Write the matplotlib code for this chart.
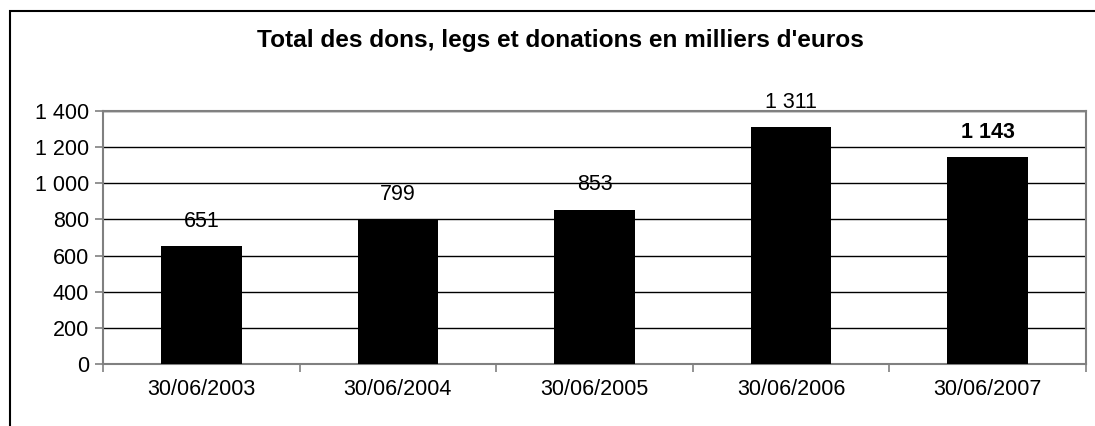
import matplotlib
matplotlib.use("Agg")
import matplotlib.pyplot as plt
from matplotlib.patches import Rectangle
from matplotlib.ticker import FuncFormatter, FixedLocator

plt.rcParams['font.family'] = ['Liberation Sans', 'DejaVu Sans']

categories = ["30/06/2003", "30/06/2004", "30/06/2005", "30/06/2006", "30/06/2007"]
values = [651, 799, 853, 1311, 1143]
title = "Total des dons, legs et donations en milliers d'euros"

W, H = 1095, 426
fig = plt.figure(figsize=(W / 100, H / 100), dpi=100)

# outer chart frame (extends past right and bottom edges)
fig.patches.append(Rectangle((10 / W, -0.2), 1.2, 1 - 11 / H + 0.2, transform=fig.transFigure,
                             fill=False, edgecolor='black', linewidth=1.5))

left, right, top, bottom = 103 / W, 1086 / W, 1 - 111 / H, 1 - 364 / H
ax = fig.add_axes([left, bottom, right - left, top - bottom])

def fmt(v):
    return f"{int(v):,}".replace(",", " ")

fs = 15.5
x = [i + 0.5 for i in range(len(values))]
ax.bar(x, values, width=0.41, color='black', zorder=3)
ax.set_xlim(0, len(values))
ax.set_ylim(0, 1400)
ax.set_yticks(range(0, 1401, 200))
ax.yaxis.set_major_formatter(FuncFormatter(lambda v, p: fmt(v)))
ax.set_xticks(range(len(values) + 1))
ax.set_xticklabels([])
ax.xaxis.set_minor_locator(FixedLocator(x))
ax.set_xticklabels(categories, minor=True)
ax.tick_params(axis='x', which='minor', length=0, pad=11, labelsize=fs)
ax.tick_params(axis='x', which='major', length=6, direction='out', color='#808080', width=1.2)
ax.tick_params(axis='y', length=6, direction='out', color='#808080', width=1.2, labelsize=fs, pad=4)
ax.grid(axis='y', color='black', linewidth=1, zorder=1)
for s in ax.spines.values():
    s.set_color('#808080')
    s.set_linewidth(1.5)

for i, v in enumerate(values):
    ax.annotate(fmt(v), (x[i], v), xytext=(0, 10.5), textcoords='offset points', ha='center',
                va='bottom', fontsize=fs, fontweight='bold' if i == len(values) - 1 else 'normal',
                zorder=5)

fig.text(560 / W, 1 - 41 / H, title, ha='center', va='center', fontsize=17.6, fontweight='bold')

fig.savefig("out.png", dpi=100)
